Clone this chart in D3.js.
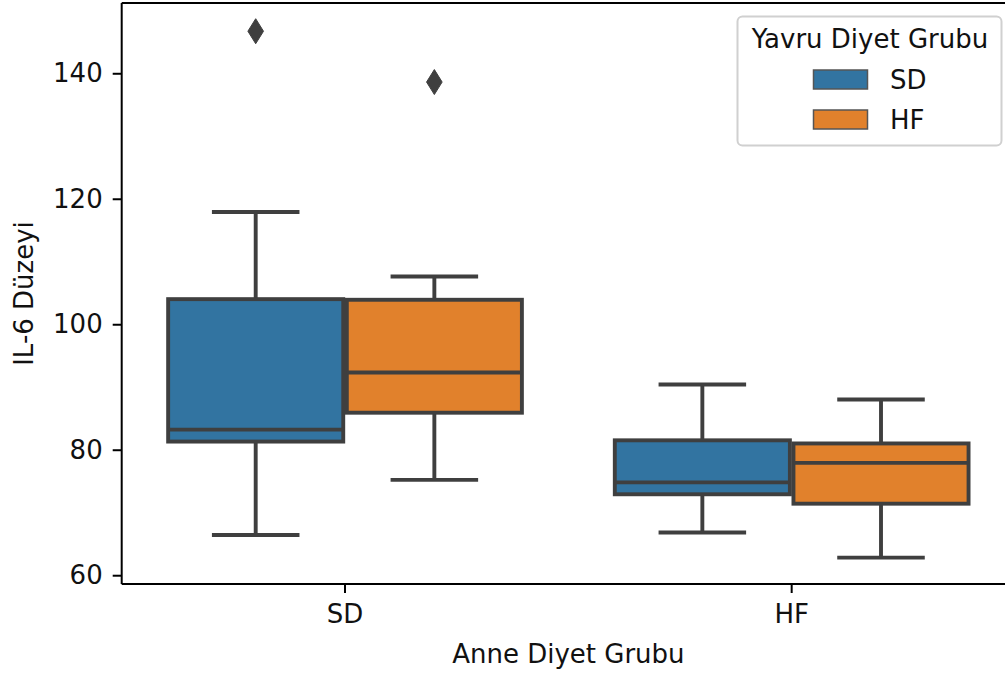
<!DOCTYPE html>
<html>
<head>
<meta charset="utf-8">
<script src="https://cdn.jsdelivr.net/npm/d3@7"></script>
<style>
  html, body { margin: 0; padding: 0; background: #ffffff; }
  svg { display: block; font-family: "DejaVu Sans", sans-serif; }
</style>
</head>
<body>
<svg id="chart" width="1005" height="673"></svg>
<script>
// ---- data ----
const categories = ["SD", "HF"];            // Anne Diyet Grubu
const hues = ["SD", "HF"];                  // Yavru Diyet Grubu
const hueColors = ["#3274a1", "#e1812c"];
// per category, per hue
const whiskerLow  = [[66.4, 75.2], [66.8, 62.8]];
const q1Values    = [[81.3, 85.9], [72.9, 71.4]];
const medians     = [[83.2, 92.3], [74.8, 77.9]];
const q3Values    = [[104.0, 103.9], [81.5, 81.0]];
const whiskerHigh = [[117.9, 107.6], [90.4, 88.0]];
const outliers    = [[[146.7], [138.6]], [[], []]];
const yTicks = [60, 80, 100, 120, 140];
const xLabel = "Anne Diyet Grubu";
const yLabel = "IL-6 Düzeyi";
const legendTitle = "Yavru Diyet Grubu";

(function () {
// ---- layout ----
const svg = d3.select("#chart");
const pLeft = 121.7, pRight = 1015, pTop = 3, pBottom = 584;
const gray = "#3f3f3f";
const lw = 3.9;

const x = d3.scaleBand().domain(categories).range([pLeft, pRight]).paddingInner(0).paddingOuter(0);
const y = d3.scaleLinear().domain([58.6, 151.2]).range([pBottom, pTop]);
const hueOffset = d3.scaleBand().domain(hues).range([-0.4, 0.4]);
const boxW = 0.4 * 0.98;

const g = svg.append("g");

categories.forEach((cat, ci) => {
  hues.forEach((h, hi) => {
    const cx = x(cat) + x.bandwidth() / 2 + (hueOffset(h) + hueOffset.bandwidth() / 2) * x.bandwidth();
    const bw = boxW * x.bandwidth();
    const capW = bw / 2;
    const grp = g.append("g");
    grp.append("line").attr("x1", cx).attr("x2", cx)
      .attr("y1", y(q3Values[ci][hi])).attr("y2", y(whiskerHigh[ci][hi]))
      .attr("stroke", gray).attr("stroke-width", lw);
    grp.append("line").attr("x1", cx).attr("x2", cx)
      .attr("y1", y(q1Values[ci][hi])).attr("y2", y(whiskerLow[ci][hi]))
      .attr("stroke", gray).attr("stroke-width", lw);
    [whiskerHigh[ci][hi], whiskerLow[ci][hi]].forEach(v => {
      grp.append("line").attr("x1", cx - capW / 2).attr("x2", cx + capW / 2)
        .attr("y1", y(v)).attr("y2", y(v))
        .attr("stroke", gray).attr("stroke-width", lw);
    });
    grp.append("rect")
      .attr("x", cx - bw / 2).attr("width", bw)
      .attr("y", y(q3Values[ci][hi])).attr("height", y(q1Values[ci][hi]) - y(q3Values[ci][hi]))
      .attr("fill", hueColors[hi]).attr("stroke", gray).attr("stroke-width", lw);
    grp.append("line").attr("x1", cx - bw / 2).attr("x2", cx + bw / 2)
      .attr("y1", y(medians[ci][hi])).attr("y2", y(medians[ci][hi]))
      .attr("stroke", gray).attr("stroke-width", lw);
    outliers[ci][hi].forEach(v => {
      const py = y(v);
      grp.append("path")
        .attr("d", `M${cx},${py - 12.5} L${cx + 7.8},${py} L${cx},${py + 12.5} L${cx - 7.8},${py} Z`)
        .attr("fill", gray).attr("stroke", gray).attr("stroke-width", 1);
    });
  });
});

// ---- axes ----
const yAxis = d3.axisLeft(y).tickValues(yTicks).tickSize(9).tickPadding(10).tickSizeOuter(0);
const yg = svg.append("g").attr("transform", `translate(${pLeft},0)`).call(yAxis);
yg.select(".domain").remove();
yg.selectAll(".tick line").attr("stroke", "#000").attr("stroke-width", 2);
yg.selectAll(".tick text").attr("font-size", 26).attr("fill", "#111")
  .attr("font-family", "DejaVu Sans, sans-serif");

const xAxis = d3.axisBottom(x).tickSize(9).tickPadding(12).tickSizeOuter(0);
const xg = svg.append("g").attr("transform", `translate(0,${pBottom})`).call(xAxis);
xg.select(".domain").remove();
xg.selectAll(".tick line").attr("stroke", "#000").attr("stroke-width", 2);
xg.selectAll(".tick text").attr("font-size", 26).attr("fill", "#111")
  .attr("font-family", "DejaVu Sans, sans-serif");

svg.append("line").attr("x1", pLeft).attr("x2", pLeft).attr("y1", pTop).attr("y2", pBottom)
  .attr("stroke", "#000").attr("stroke-width", 2);
svg.append("line").attr("x1", pLeft).attr("x2", pRight).attr("y1", pBottom).attr("y2", pBottom)
  .attr("stroke", "#000").attr("stroke-width", 2);
svg.append("line").attr("x1", pLeft).attr("x2", pRight).attr("y1", pTop).attr("y2", pTop)
  .attr("stroke", "#000").attr("stroke-width", 2);

svg.append("text").attr("x", (pLeft + pRight) / 2).attr("y", 663)
  .attr("text-anchor", "middle").attr("font-size", 26).attr("fill", "#111")
  .text(xLabel);
svg.append("text").attr("transform", `translate(33,${(pTop + pBottom) / 2}) rotate(-90)`)
  .attr("text-anchor", "middle").attr("font-size", 26).attr("fill", "#111")
  .text(yLabel);

// ---- legend ----
const lg = svg.append("g");
lg.append("rect").attr("x", 737.5).attr("y", 16.5).attr("width", 264).attr("height", 129)
  .attr("rx", 5).attr("fill", "#fff").attr("fill-opacity", 0.8)
  .attr("stroke", "#d0d0d0").attr("stroke-width", 2);
lg.append("text").attr("x", 870).attr("y", 48).attr("text-anchor", "middle")
  .attr("font-size", 26).attr("fill", "#111").text(legendTitle);
hues.forEach((h, i) => {
  const yy = 70 + i * 40;
  lg.append("rect").attr("x", 813.5).attr("y", yy).attr("width", 54).attr("height", 19)
    .attr("fill", hueColors[i]).attr("stroke", "#555").attr("stroke-width", 1.5);
  lg.append("text").attr("x", 890).attr("y", yy + 19).attr("font-size", 26)
    .attr("fill", "#111").text(h);
});
})();
</script>
</body>
</html>
